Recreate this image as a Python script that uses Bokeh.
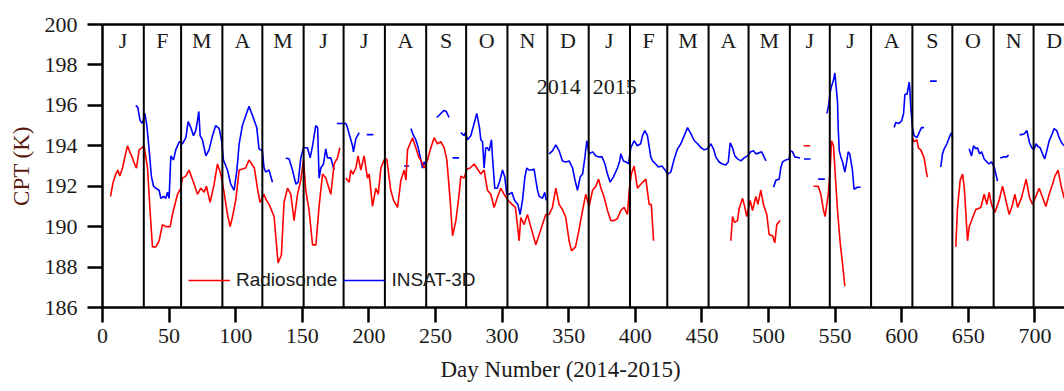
import math
from bokeh.plotting import figure
from bokeh.models import (Range1d, FixedTicker, LinearAxis, Label, Legend, Title,
                          LegendItem, ColumnDataSource)
from bokeh.core.properties import value
from bokeh.embed import file_html
from bokeh.resources import INLINE

nan = float("nan")

# ---------------- data ----------------
month_bounds = [31, 59, 90, 120, 151, 181, 212, 243, 273, 304, 334, 365,
                396, 424, 455, 485, 516, 546, 577, 608, 638, 669, 699, 730]
month_letters = list("JFMAMJJASOND") * 2
year_labels = ["2014", "2015"]
x_ticks = list(range(0, 751, 50))
y_ticks = list(range(186, 201, 2))

# Radiosonde CPT (K); NaN separates gaps
rs_day = [6, 8, 10, 11.5, 13, 15, 17, 18.8, 20.5, 22.5, 24, 25.5, 27.5, 29.5, 31.2, 33.8, 35.7, 37.5, 40, 42.5,
          45, 47.5, 50.8, 52.5, 56.3, 58.8, 60, 62.5, 65, 68.8, 71.3, 73.8, 76.3, 78, 80.8, 83.8, 86.3, 88.8,
          91.3, 93.8, 95.8, 97.3, 100, 102.6, 105, 107.5, 110, 112, 114, 116.3, 118.3, 121.3, 123, 125.1, 128.8,
          131.8, 134.3, 136.3, 138.9, 141.4, 143.8, 146.4, 148.9, 150.9, 152.6, 155.1, 157.7, 160.2, 162.6,
          165.2, 167.7, 171.4, 173.9, 176.4, 178.2, nan,
          182.7, 185.2, 186.4, 188, 190.2, 191.9, 193.9, 196.4, 198.9, 200.2, 202.7, 205.2, 207, 209, 211.4,
          213.4, 216.4, 218.5, 221.5, 224, 226.5, 227.8, 229, 232.7, 235.2, 237.7, 239, 241.5, 244, 246.5, 249,
          251.5, 254, 256.5, 258.5, 261, 262.8, 265.3, 267.7, 269, 271.5, 273.5, 276, 279, 281.5, 284, 286.5,
          289, 291.5, 294, 296.5, 299, 301.5, 304.5, 307.5, 310, 312.8, 314, 316.5, 319, 321.5, 325.3, 327.8,
          330.3, 332.8, 335.3, 337.8, 340.3, 342.8, 345.3, 347.8, 350.3, 352.1, 355.1, 357.6, 360.4, 362.8,
          365.3, 367.9, 370.4, 372.4, 374.2, 376.6, 379.1, 381.6, 384.1, 386.6, 389.1, 391.6, 394.1, 395.4,
          397, 399.1, 401.6, 404.1, 407.9, 410.4, 412, 413.7, nan,
          471.7, 473, 474.5, 476.7, 478, 480.5, 481.7, 483.7, 486.2, 488, 490.5, 492, 494.2, 496.2, 498.7,
          500.5, 503, 504.7, 506.2, 508.7, nan,
          526.3, 531.2, nan,
          533.8, 537.3, 539.3, 541.3, 542.5, 544.8, 546.3, 547.3, 548.8, 549.8, 551.8, 553.8, 555.6, 557.3, nan,
          608, 609.3, 611.4, 612.5, 614.3, 616.8, 618.8, 619.3, nan,
          640.6, 641.9, 643.9, 645.7, 647, 649.4, 650.7, 652.4, 655.6, 659.4, 661.9, 663.9, 665.6, 667.4,
          669.9, 673.1, 675.7, 678.2, 680.7, 683.2, 685, 687, 690, 693.4, 695.9, 698.2, 700.7, 703.2, 705.7,
          708.2, 710.7, 713.2, 715, 717.4, 719.4, 722]
rs_cpt = [191.5, 192.2, 192.6, 192.8, 192.5, 192.9, 193.5, 194.0, 193.7, 193.4, 193.1, 192.9, 193.8, 193.9, 194.0,
          192.9, 190.8, 189.0, 189.0, 189.3, 190.1, 190.0, 190.0, 190.6, 191.6, 191.9, 192.4, 192.5, 192.8,
          192.1, 191.6, 191.9, 191.7, 192.0, 191.2, 192.1, 193.1, 192.6, 191.7, 190.6, 190.0, 190.4, 191.3,
          192.8, 192.85, 192.9, 193.3, 193.1, 192.9, 191.9, 191.2, 191.6, 191.3, 191.1, 190.5, 188.2, 188.6,
          191.2, 191.9, 191.6, 190.3, 191.6, 192.3, 193.3, 191.8, 190.8, 189.1, 189.1, 191.0, 192.6, 192.4,
          191.6, 193.1, 193.4, 193.9, nan,
          192.4, 192.2, 192.8, 192.6, 192.9, 193.5, 192.8, 193.5, 192.4, 192.6, 191.0, 191.9, 191.6, 192.9,
          193.3, 193.35, 191.8, 191.3, 190.95, 192.3, 192.8, 192.3, 193.8, 194.4, 193.9, 193.4, 193.3, 192.9,
          193.3, 193.9, 194.4, 194.1, 194.2, 193.9, 193.3, 191.3, 189.55, 190.3, 191.6, 192.5, 192.4, 192.85,
          192.9, 193.1, 192.85, 192.6, 192.8, 191.8, 191.6, 190.95, 191.45, 191.9, 191.6, 191.3, 191.1, 190.95,
          189.3, 190.45, 190.1, 190.6, 190.0, 189.1, 189.6, 190.1, 190.6, 190.6, 190.95, 191.9, 191.1, 190.85,
          190.45, 189.3, 188.8, 189.0, 189.8, 190.8, 191.6, 191.0, 191.8, 192.0, 192.35, 191.9, 191.45, 190.8,
          190.3, 190.3, 190.4, 190.8, 190.95, 190.6, 191.8, 192.6, 193.0, 191.9, 192.1, 192.35, 191.1, 191.1,
          189.3, nan,
          189.3, 190.5, 190.2, 190.3, 190.9, 191.4, 191.1, 190.5, 191.3, 190.8, 191.5, 191.1, 191.8, 191.1,
          190.6, 189.6, 189.55, 189.2, 190.1, 190.3, nan,
          194.0, 194.0, nan,
          192.0, 192.0, 191.6, 190.8, 190.5, 191.6, 192.8, 194.25, 194.0, 192.9, 190.8, 189.2, 188.15, 187.05, nan,
          194.4, 194.2, 194.3, 193.9, 193.8, 193.4, 192.6, 192.45, nan,
          189.0, 190.95, 192.3, 192.6, 191.9, 189.3, 190.0, 190.3, 190.85, 190.95, 191.6, 191.1, 191.7, 191.1,
          190.7, 191.3, 192.0, 191.3, 190.6, 191.1, 191.6, 190.95, 191.45, 192.35, 191.45, 191.1, 191.5, 191.9,
          191.45, 191.0, 191.6, 192.1, 192.5, 192.8, 192.1, 191.4]

# INSAT-3D CPT (K); NaN separates gaps
in_day = [25, 26.5, 28.2, 30, 31.8, 33.3, 35, 36.7, 38.3, 40, 42.5, 43.8, 45.8, 47.5, 48.8, 50, 51.3, 53.3, 55,
          57.6, 60, 62.6, 64.3, 66.3, 68.3, 70, 71.3, 72.3, 73.3, 75, 77.6, 80, 82.6, 85, 87.6, 89.3, 90.8, 93.8,
          96.3, 98.8, 100.9, 102.6, 105, 107.6, 110, 112.6, 115.8, 117.5, 120, 121.3, 122.5, 125, 127.6, nan,
          137.6, 140.1, 142.6, 145.2, 146.9, 148.9, 150.9, 153.9, 155.9, 157.7, 160.1, 161.5, 162.6, 163.9,
          165.9, 167.6, 168.9, 171.4, 173.9, nan,
          175.9, 182.7, 183.4, 186, 187.7, 188.4, 190.2, 192.7, nan,
          198.4, 203.4, nan,
          226.4, 230.2, nan,
          231.5, 233.5, 235.2, 237, 239, 240.2, 241.5, 243, nan,
          251, 254, 256.5, 258, 260.2, nan,
          262.8, 267.7, nan,
          269, 271.5, 272.5, 274, 276.5, 279, 281, 283, 284, 285.3, 286.5, 287.7, 289, 290.3, 292, 292.8, 294.5,
          296.4, 298.4, 300.3, 302, 303.5, 305.3, 307.3, 309.3, 311.8, 313.5, 315.3, 317.1, 318.5, 320.2, 322.7,
          324, 325.3, 326.6, 327.8, 330.3, 332, 333.1, nan,
          335.3, 337.8, 340.3, 342.8, 345.3, 347.8, 350.3, 352.9, 354.7, 356.6, 358.6, 360.4, 362.1, 363.6,
          365.3, 367.9, 370.4, 372.9, 375, 377.2, 379.1, 381.1, 383.5, 386.6, 388.3, 389.1, 391.1, 393, 394.9,
          396.6, 399.1, 401.5, 404, 405.4, 407.1, 409.1, 411.6, 413, 415.3, 417.3, 419.9, 422.4, 424.2, 426.7,
          429.2, 431.7, 434.2, 436.7, 439.2, 441.7, 444.3, 446.8, 449.3, 451.8, 454.3, 456.7, 458.7, 460.4,
          462.9, 465.4, 467.9, 469.8, 471.2, 473, 474.7, 476.8, 478, 479.2, 481.7, 484.2, 486.7, 488.7, 490.5,
          493, 494.8, 496.3, 498.1, nan,
          503.8, 505.5, 508, 509.2, 510.5, 513, 515.5, 516.2, 518, 519.7, 523.7, nan,
          526.6, 531.6, nan,
          537.3, 542.3, nan,
          543.8, 545, 546.3, 547.3, 548.8, 549.8, 550.6, 551.8, 552.3, 553.1, 554.3, 555.6, 557.3, 558.8, 559.8,
          561, 563, 564.2, 566.7, 569.2, nan,
          594.3, 595.5, 598, 600, 601.4, 602.4, 604, 605.6, 606, 606.8, 608.1, 609.3, 611.4, 613.1, 614.8,
          616.8, nan,
          621.3, 626.3, nan,
          629.3, 630.6, 631.9, 633.9, 635.6, 637.4, 638.2, nan,
          650.6, 652.4, 653.9, 655.6, 656.9, 658.4, 660, 661.9, 663.9, 665.6, 667.4, 669.4, 670.7, 671.9, nan,
          673.9, 676.4, 678.9, 680.2, nan,
          688.5, 690, 692, 694, 695.9, 697.7, 699.2, 700.9, 702.4, 703.9, 705.7, 707.4, 708.9, 710.7, 712.4,
          714.4, 716.4, 718.2, 720, 721.9]
in_cpt = [196.0, 195.9, 195.25, 195.1, 195.6, 195.0, 193.8, 192.5, 192.0, 191.9, 191.8, 191.4, 191.5, 191.4,
          191.7, 191.4, 193.5, 193.3, 193.8, 194.2, 194.1, 194.4, 195.2, 194.9, 194.5, 194.75, 195.25, 195.7,
          194.5, 194.3, 193.5, 193.8, 194.5, 195.0, 194.85, 194.3, 193.3, 192.8, 192.1, 191.8, 192.8, 194.1,
          195.0, 195.5, 195.95, 195.5, 194.9, 193.85, 193.75, 192.9, 192.7, 192.8, 192.2, nan,
          193.4, 193.35, 192.8, 192.1, 192.2, 193.4, 193.9, 193.9, 193.4, 194.0, 195.0, 194.9, 192.4, 192.9,
          193.1, 193.85, 193.4, 193.4, 192.8, nan,
          195.1, 195.1, 195.0, 194.4, 194.0, 193.7, 194.35, 194.65, nan,
          194.55, 194.55, nan,
          193.0, 193.0, nan,
          194.85, 194.5, 194.3, 193.9, 193.3, 192.9, 193.2, 193.0, nan,
          195.4, 195.6, 195.75, 195.7, 195.4, nan,
          193.4, 193.4, nan,
          194.65, 194.5, 194.65, 194.3, 194.5, 195.1, 195.6, 194.9, 194.3, 194.2, 192.9, 193.9, 193.9, 193.75,
          194.3, 193.4, 191.9, 191.9, 192.3, 192.8, 192.45, 191.6, 191.6, 191.7, 191.3, 191.1, 190.6, 191.3,
          192.45, 192.9, 192.8, 192.8, 192.85, 192.3, 191.8, 191.5, 191.4, 191.7, 191.3, nan,
          193.6, 193.75, 194.05, 193.75, 193.25, 193.2, 193.25, 192.9, 192.3, 191.8, 192.45, 192.6, 193.4,
          194.25, 193.6, 193.7, 193.5, 193.45, 193.45, 193.1, 192.6, 192.2, 192.45, 192.9, 193.25, 193.6,
          193.25, 193.2, 193.1, 193.9, 194.25, 194.0, 194.1, 194.5, 194.75, 194.5, 193.45, 193.25, 193.1,
          192.95, 193.0, 192.8, 192.6, 192.7, 193.35, 193.85, 194.1, 194.5, 194.9, 194.6, 194.25, 194.1, 193.9,
          193.8, 193.85, 194.1, 193.85, 193.45, 193.2, 193.1, 193.05, 193.2, 194.15, 193.9, 193.5, 193.35,
          193.3, 193.25, 193.4, 193.5, 193.7, 193.75, 193.6, 193.65, 193.7, 193.5, 193.25, nan,
          191.95, 192.3, 192.35, 192.9, 193.2, 193.3, 193.35, 193.75, 193.7, 193.45, 193.4, nan,
          193.35, 193.35, nan,
          192.35, 192.35, nan,
          195.6, 195.95, 196.65, 196.95, 197.25, 197.6, 197.0, 196.2, 194.9, 193.75, 193.45, 193.2, 192.7,
          193.25, 193.7, 193.6, 192.8, 191.85, 191.95, 191.95, nan,
          194.9, 195.15, 195.1, 195.25, 195.6, 196.55, 196.55, 197.15, 196.9, 195.9, 194.9, 194.5, 194.4,
          194.65, 194.9, 194.9, nan,
          197.2, 197.2, nan,
          192.95, 193.6, 193.85, 194.1, 194.4, 194.65, 194.4, nan,
          193.85, 193.5, 194.0, 193.85, 193.9, 193.6, 193.7, 193.35, 193.2, 193.1, 193.2, 192.95, 192.6,
          192.25, nan,
          193.4, 193.45, 193.45, 193.55, nan,
          194.55, 194.55, 194.6, 194.75, 194.15, 193.9, 193.8, 194.1, 193.95, 193.9, 193.6, 193.35, 193.75,
          194.25, 194.5, 194.85, 194.75, 194.4, 194.15, 194.0]

# ---------------- figure ----------------
SERIF = "Liberation Serif"
SANS = "Liberation Sans"
TXT = "#1a1a1a"

p = figure(width=1064, height=391, output_backend="svg", toolbar_location=None,
           x_range=Range1d(0, 722.2), y_range=Range1d(186, 200),
           min_border_left=102, min_border_right=0, min_border_top=24, min_border_bottom=84)
p.outline_line_color = None
p.xgrid.visible = False
p.ygrid.visible = False
p.background_fill_color = "white"
p.border_fill_color = "white"

for ax, ticks in ((p.xaxis[0], x_ticks), (p.yaxis[0], y_ticks)):
    ax.ticker = FixedTicker(ticks=ticks)
    ax.axis_line_width = 2.5
    ax.axis_line_color = "black"
    ax.major_tick_line_width = 2.5
    ax.major_tick_line_color = "black"
    ax.major_tick_out = 15
    ax.major_tick_in = 0
    ax.minor_tick_line_color = None
    ax.major_label_text_font = SERIF
    ax.major_label_text_font_size = "22px"
    ax.major_label_text_color = TXT
p.xaxis[0].major_label_standoff = 6
p.yaxis[0].major_label_standoff = 10
p.yaxis[0].axis_label = "CPT (K)"
p.yaxis[0].axis_label_text_font = SERIF
p.yaxis[0].axis_label_text_font_size = "23px"
p.yaxis[0].axis_label_text_font_style = "normal"
p.yaxis[0].axis_label_text_color = "#5a1a12"
p.yaxis[0].axis_label_standoff = 8

top = LinearAxis(ticker=FixedTicker(ticks=[]), axis_line_width=2.5, axis_line_color="black",
                 major_tick_line_color=None, minor_tick_line_color=None,
                 major_label_text_font_size="0px")
p.add_layout(top, "above")

# x-axis title (below the axis, shifted to match the original placement)
p.add_layout(Title(text="Day Number (2014-2015)", align="left", offset=338, standoff=19,
                   text_font=SERIF, text_font_size="23px", text_font_style="normal",
                   text_color=TXT), "below")

# series
r_blue = p.line(in_day, in_cpt, line_color="#0000FF", line_width=1.6)
r_red = p.line(rs_day, rs_cpt, line_color="#FF0000", line_width=1.6)

# month boundary lines
bounds = [b for b in month_bounds[:-1]]
p.segment(x0=bounds, y0=[186] * len(bounds), x1=bounds, y1=[200] * len(bounds),
          line_color="black", line_width=2)

# month letters
starts = [0] + month_bounds[:-1]
mids = [(a + b) / 2 for a, b in zip(starts, month_bounds)]
msrc = ColumnDataSource(dict(x=mids, y=[199.2] * len(mids), t=month_letters))
p.text(x="x", y="y", text="t", source=msrc, text_font=value(SERIF), text_font_size="22px",
       text_align="center", text_baseline="middle", text_color=TXT)

# year labels around the year boundary
yb = month_bounds[11]
p.add_layout(Label(x=yb - 6, y=196.93, text=year_labels[0], text_align="right", text_baseline="middle",
                   text_font=SERIF, text_font_size="22px", text_color=TXT))
p.add_layout(Label(x=yb + 3, y=196.93, text=year_labels[1], text_align="left", text_baseline="middle",
                   text_font=SERIF, text_font_size="22px", text_color=TXT))

legend = Legend(items=[LegendItem(label="Radiosonde", renderers=[r_red]),
                       LegendItem(label="INSAT-3D", renderers=[r_blue])],
                orientation="horizontal", location=(86, 16), padding=0, margin=0, spacing=6,
                glyph_width=42, glyph_height=20, label_height=20, label_standoff=6,
                label_text_font=SANS, label_text_font_size="19px", label_text_color=TXT,
                background_fill_alpha=0, border_line_color=None)
p.add_layout(legend)

open("out.html", "w").write(file_html(p, INLINE))
